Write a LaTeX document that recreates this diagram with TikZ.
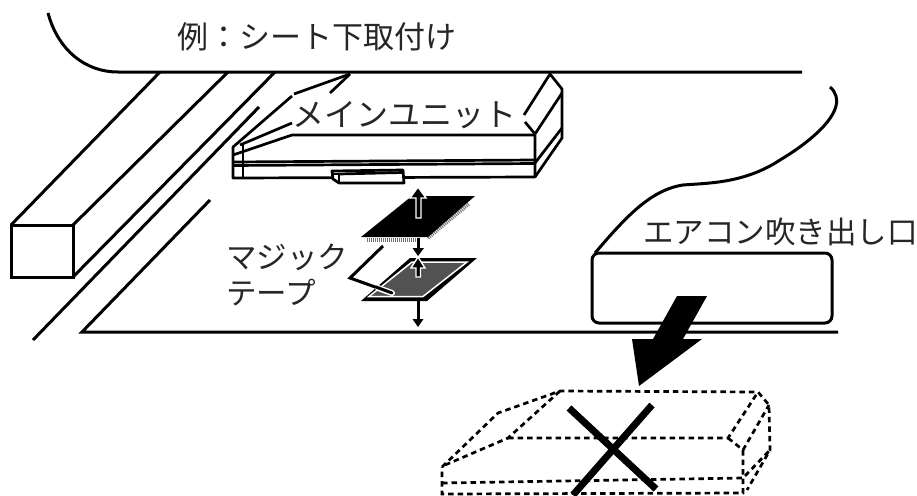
\documentclass[tikz,border=0pt]{standalone}
\usepackage{fontspec}
\newfontfamily\cjk{Noto Sans CJK JP}
\tikzset{
  ln/.style={draw=black,line width=3pt,line join=miter},
  thin ln/.style={draw=black,line width=2.7pt,line join=round},
  dsh/.style={draw=black,line width=2.7pt,dash pattern=on 5.5pt off 4pt},
  lbl/.style={font=\cjk\fontsize{30.5pt}{34pt}\selectfont,text=black!85,inner sep=0pt,anchor=west},
  uparrow/.style={fill=black,draw=white,line width=1.4pt,line join=miter},
  dnarrow/.style={fill=black,draw=none},
  fringe/.style={draw=black!55,line width=3.5pt,dash pattern=on 1pt off 1pt},
}
\begin{document}
\begin{tikzpicture}[x=1pt,y=-1pt]
\useasboundingbox (0,0) rectangle (917,495);
\fill[white] (0,0) rectangle (917,495);
% top outline
\draw[ln] (48,13) .. controls (58,50) and (85,72) .. (118,72) -- (802,72);
% right curve
\draw[ln] (830,87) .. controls (836,92) and (838,100) .. (836,106)
  .. controls (832,122) and (810,142) .. (780,160)
  .. controls (745,183) and (710,183) .. (683,185)
  .. controls (650,190) and (625,218) .. (595,253);
% beam
\draw[ln] (11,225) rectangle (73,277);
\draw[ln] (11,225) -- (160,72);
\draw[ln] (73,225) -- (228,72);
\draw[ln] (73,277) -- (275,72);
\draw[ln] (33,340) -- (259,107);
\draw[ln] (210,200) -- (82,332) -- (838,332);
% main unit
\draw[thin ln] (292,96) -- (233,147) -- (233,178) -- (535,177) -- (535,135) -- (292,135) -- (233,155);
\draw[thin ln] (294,94) -- (350,74);
\draw[thin ln] (330,93) -- (350,74);
\draw[thin ln] (240,145) -- (292,123);
\draw[thin ln] (243,145) -- (243,177);
\draw[thin ln] (233,162) -- (535,160);
\draw[thin ln] (233,165.5) -- (535,163.5);
\draw[thin ln] (535,134) -- (525,122);
\draw[thin ln] (524,115) -- (550,74) -- (562,89) -- (562,138) -- (535,177);
\draw[thin ln] (562,93) -- (535,134);
\draw[thin ln] (535,163) -- (562,128);
% handle
\draw[thin ln,fill=white] (332,171) -- (403,170) -- (404,183) -- (339,183) -- (333,179) -- cycle;
\draw[thin ln] (333,174) -- (339,174) -- (339,183);
\draw[thin ln] (339,174) -- (403,172.5);
% velcro upper
\draw[fringe] (367,240) -- (417,240);
\draw[fringe] (428,238) -- (469,204);
\fill[black] (361,237) -- (412,196) -- (475,196) -- (428,237) -- cycle;
\path[uparrow] (418,187) -- (426,198) -- (421,198) -- (421,218) -- (416,218) -- (416,198) -- (410,198) -- cycle;
\fill[black] (416.5,238) rectangle (420,249);
\path[dnarrow] (412.5,248) -- (424,248) -- (418,256) -- cycle;
% velcro lower
\fill[black] (361,301) -- (410,258) -- (477,258) -- (427,301) -- cycle;
\draw[white,line width=1.5pt,fill=black!68] (369,296.5) -- (412,262) -- (467,262) -- (423,296.5) -- cycle;
\path[uparrow] (418,257) -- (425,268) -- (420.5,268) -- (420.5,277) -- (416,277) -- (416,268) -- (411,268) -- cycle;
\fill[black] (416.5,299) rectangle (420,320);
\path[dnarrow] (412.5,319) -- (423.5,319) -- (418,327) -- cycle;
% leader
\draw[ln] (383,246) -- (350,278) -- (378,288);
\draw[white,line width=6pt,line cap=round] (378,288) -- (392,293);
\draw[black,line width=3pt,line cap=round] (376,287) -- (392,293);
% vent
\draw[ln,rounded corners=7pt] (592,253) rectangle (832,323);
% big arrow
\fill[black] (677,296) -- (707,296) -- (683,339) -- (702,339) -- (639,386) -- (632,339) -- (653,339) -- cycle;
% dashed box
\draw[dsh] (442,467) -- (498,413) -- (560,391) -- (758,392) -- (769,405) -- (770,450) -- (747,490);
\draw[dsh] (445,465) -- (508,438) -- (560,391);
\draw[dsh] (508,438) -- (728,438) -- (758,392);
\draw[dsh] (728,438) -- (743,450) -- (769,405);
\draw[dsh] (743,450) -- (743,493) -- (442,494) -- (442,467);
\draw[dsh] (442,483) -- (743,478) -- (770,450);
% cross
\draw[black,line width=7pt] (569,408) -- (656,489);
\draw[black,line width=7pt] (652,405) -- (573,495);
% texts
\node[lbl] (title) at (177,37) {\fontsize{31pt}{34pt}\selectfont 例：シート下取付け};
\node[lbl] (unit) at (292,115) {\fontsize{32pt}{34pt}\selectfont メインユニット};
\node[lbl] (tape1) at (226,257) {マジック};
\node[lbl] (tape2) at (226,293) {テープ};
\node[lbl] (vent) at (643,232) {エアコン吹き出し口};
\end{tikzpicture}
\end{document}
